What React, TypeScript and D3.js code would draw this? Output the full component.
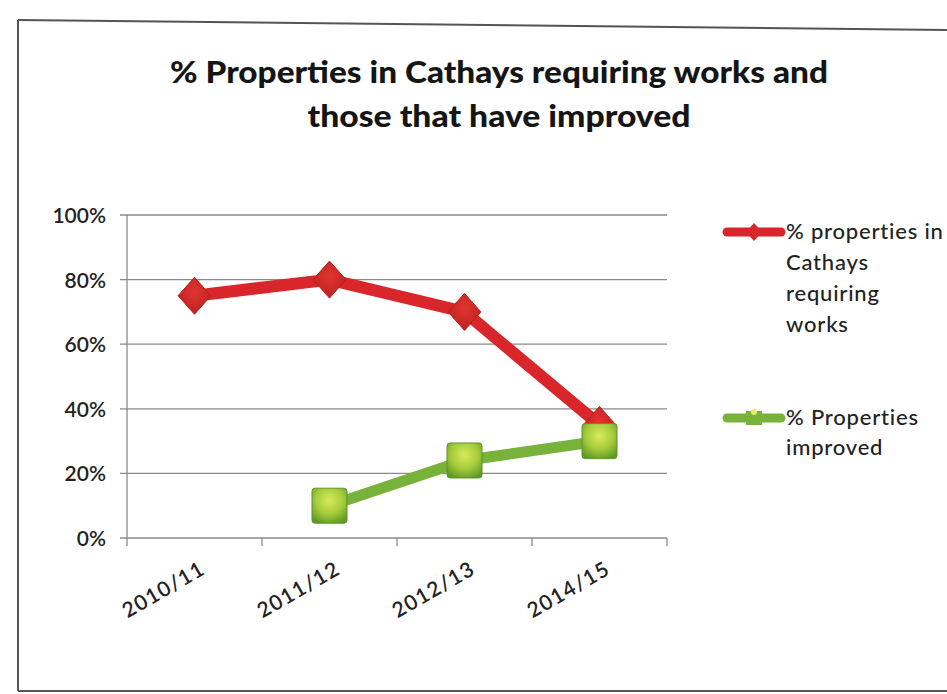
import React from "react";
import * as d3 from "d3";

const categories = ["2010/11", "2011/12", "2012/13", "2014/15"];
const requiringWorks = [0.75, 0.8, 0.7, 0.35];
const improved: (number | null)[] = [null, 0.1, 0.24, 0.3];
const yTicks = [0, 0.2, 0.4, 0.6, 0.8, 1.0];
const seriesNames = ["% properties in Cathays requiring works", "% Properties improved"];
const legendLines1 = ["% properties in", "Cathays", "requiring", "works"];
const legendLines2 = ["% Properties", "improved"];
const titleLines = ["% Properties in Cathays requiring works and", "those that have improved"];

const W = 947, H = 694;
const font = "Lato, 'Open Sans', sans-serif";
const RED = "#d8262a";
const GREEN = "#78b23a";

// diamond slightly taller than wide (rotated square look)
const wideDiamond: d3.SymbolType = {
  draw(ctx, size) {
    const hw = Math.sqrt(size) * 0.47;
    const hh = Math.sqrt(size) * 0.53;
    ctx.moveTo(0, -hh);
    ctx.lineTo(hw, 0);
    ctx.lineTo(0, hh);
    ctx.lineTo(-hw, 0);
    ctx.closePath();
  },
};

export default function App() {
  const x = d3.scaleBand<string>().domain(categories).range([127, 667]).padding(0);
  const y = d3.scaleLinear().domain([0, 1]).range([538, 215]);
  const cx = (c: string) => (x(c) as number) + x.bandwidth() / 2;

  const line = d3
    .line<[string, number | null]>()
    .defined((d) => d[1] != null)
    .x((d) => cx(d[0]))
    .y((d) => y(d[1] as number));

  const redData = categories.map((c, i) => [c, requiringWorks[i]] as [string, number | null]);
  const greenData = categories.map((c, i) => [c, improved[i]] as [string, number | null]);
  const diamond = d3.symbol(wideDiamond, 1220)();
  const legendDiamond = d3.symbol(wideDiamond, 290)();
  const sq = 35;

  const boundaries = [...categories.map((c) => x(c) as number), 667];
  const titleWidths = [658, 383];

  return (
    <svg width={W} height={H} style={{ position: "absolute", left: 0, top: 0, background: "#fff" }}>
      <defs>
        <radialGradient id="gsq" cx="50%" cy="35%" r="70%">
          <stop offset="0%" stopColor="#d8ea5c" />
          <stop offset="55%" stopColor="#a6cc3c" />
          <stop offset="100%" stopColor="#5f9a26" />
        </radialGradient>
        <radialGradient id="rdm" cx="50%" cy="40%" r="65%">
          <stop offset="0%" stopColor="#e03530" />
          <stop offset="100%" stopColor="#bb1f1f" />
        </radialGradient>
      </defs>
      <rect x={0} y={0} width={W} height={H} fill="#fff" />
      {/* frame */}
      <line x1={18} y1={20} x2={947} y2={30} stroke="#555" strokeWidth={2} />
      <line x1={18} y1={20} x2={18} y2={691} stroke="#555" strokeWidth={2} />
      <line x1={18} y1={691} x2={947} y2={691} stroke="#555" strokeWidth={2} />

      {/* title */}
      {titleLines.map((t, i) => (
        <text key={i} x={499} y={83 + i * 44} textAnchor="middle" fontFamily={font} fontWeight={900}
          fontSize={31} fill="#151515" textLength={titleWidths[i]} lengthAdjust="spacingAndGlyphs">{t}</text>
      ))}

      {/* gridlines */}
      {yTicks.map((t) => (
        <g key={t}>
          <line x1={120} x2={667} y1={y(t)} y2={y(t)} stroke="#8a8a8a" strokeWidth={1.3} />
          <text x={106} y={y(t) + 8} textAnchor="end" fontFamily={font} fontWeight={600} fontSize={21} fill="#222">
            {d3.format(".0%")(t)}
          </text>
        </g>
      ))}
      <line x1={127} x2={127} y1={215} y2={538} stroke="#8a8a8a" strokeWidth={1.3} />
      {boundaries.map((b, i) => (
        <line key={i} x1={b} x2={b} y1={538} y2={546} stroke="#8a8a8a" strokeWidth={1.3} />
      ))}

      {/* x labels */}
      {categories.map((c) => (
        <text key={c} transform={`translate(${cx(c) + 12},${573}) rotate(-30)`} textAnchor="end"
          fontFamily={font} fontWeight={600} fontSize={21} letterSpacing={1.2} fill="#222">{c}</text>
      ))}

      {/* series */}
      <path d={line(redData) || ""} fill="none" stroke={RED} strokeWidth={12} strokeLinejoin="round" />
      {redData.map(([c, v]) => (
        <path key={c} d={diamond || ""} transform={`translate(${cx(c)},${y(v as number)})`} fill="url(#rdm)" stroke="#b81d1e" strokeWidth={1} />
      ))}
      <path d={line(greenData) || ""} fill="none" stroke={GREEN} strokeWidth={11} strokeLinejoin="round" />
      {greenData.filter((d) => d[1] != null).map(([c, v]) => (
        <rect key={c} x={cx(c) - sq / 2} y={y(v as number) - sq / 2} width={sq} height={sq} rx={3}
          fill="url(#gsq)" stroke="#5a9524" strokeWidth={1} />
      ))}

      {/* legend */}
      <g>
        <title>{seriesNames[0]}</title>
        <line x1={727} x2={781} y1={232} y2={232} stroke={RED} strokeWidth={9} strokeLinecap="round" />
        <path d={legendDiamond || ""} transform="translate(754,232)" fill={RED} />
        {legendLines1.map((t, i) => (
          <text key={i} x={786} y={239 + i * 31} fontFamily={font} fontWeight={500} fontSize={22} letterSpacing={0.8} fill="#222">{t}</text>
        ))}
      </g>
      <g>
        <title>{seriesNames[1]}</title>
        <line x1={727} x2={781} y1={418} y2={418} stroke={GREEN} strokeWidth={9} strokeLinecap="round" />
        <rect x={746} y={411} width={16} height={14} fill={GREEN} />
        <circle cx={754} cy={412} r={3} fill="#e2ee70" />
        {legendLines2.map((t, i) => (
          <text key={i} x={786} y={425 + i * 30} fontFamily={font} fontWeight={500} fontSize={22} letterSpacing={0.8} fill="#222">{t}</text>
        ))}
      </g>
    </svg>
  );
}
